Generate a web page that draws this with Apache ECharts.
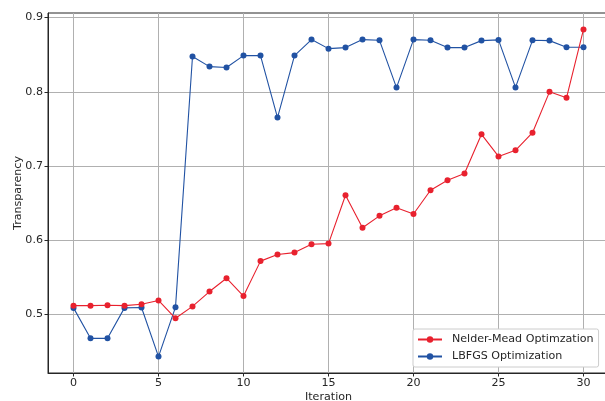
<!DOCTYPE html>
<html>
<head>
<meta charset="utf-8">
<script src="https://cdn.jsdelivr.net/npm/echarts@6/dist/echarts.min.js"></script>
<style>html,body{margin:0;padding:0;background:#fff;}#c{width:605px;height:401px;}</style>
</head>
<body>
<div id="c"></div>
<script>
const iterations = [0,1,2,3,4,5,6,7,8,9,10,11,12,13,14,15,16,17,18,19,20,21,22,23,24,25,26,27,28,29,30];
const nelderMead = [0.512,0.512,0.5125,0.512,0.514,0.519,0.495,0.511,0.531,0.549,0.525,0.572,0.581,0.5835,0.5947,0.5956,0.6607,0.617,0.633,0.644,0.6355,0.6674,0.681,0.690,0.7428,0.713,0.7213,0.745,0.800,0.792,0.884];
const lbfgs = [0.509,0.468,0.468,0.509,0.5095,0.4434,0.510,0.8475,0.834,0.8327,0.8488,0.8488,0.7653,0.8488,0.8704,0.8582,0.8596,0.8704,0.8694,0.8057,0.8704,0.8694,0.8596,0.8596,0.869,0.870,0.806,0.8694,0.869,0.860,0.860];
const xTicks = [0,5,10,15,20,25,30];
const yTicks = [0.5,0.6,0.7,0.8,0.9];
const seriesNames = ['Nelder-Mead Optimzation','LBFGS Optimization'];

const font = 'DejaVu Sans';
const fs = 11.1;
const chart = echarts.init(document.getElementById('c'), null, {renderer:'canvas'});
chart.setOption({
  animation: false,
  backgroundColor: '#fff',
  grid: {left: 48, top: 13, width: 561, height: 360, outerBoundsMode: 'none', containLabel: false,
         show: true, borderColor: '#262626', borderWidth: 1, backgroundColor: 'transparent'},
  xAxis: {
    type: 'value', min: -1.5, max: 31.5,
    name: 'Iteration', nameLocation: 'middle', nameGap: 19, nameMoveOverlap: false,
    nameTextStyle: {fontFamily: font, fontSize: fs, color: '#262626'},
    axisLine: {show: true, onZero: false, lineStyle: {color: '#262626', width: 1}},
    axisTick: {show: true, length: 3.5, customValues: xTicks, lineStyle: {color: '#262626'}},
    axisLabel: {customValues: xTicks, margin: 5, fontFamily: font, fontSize: fs, color: '#262626'},
    splitLine: {show: true, lineStyle: {color: '#b0b0b0', width: 1}}
  },
  yAxis: {
    type: 'value', min: 0.4213, max: 0.9062,
    name: 'Transparency', nameLocation: 'middle', nameGap: 24, nameMoveOverlap: false,
    nameTextStyle: {fontFamily: font, fontSize: fs, color: '#262626'},
    axisLine: {show: true, onZero: false, lineStyle: {color: '#262626', width: 1}},
    axisTick: {show: true, length: 3.5, customValues: yTicks, lineStyle: {color: '#262626'}},
    axisLabel: {customValues: yTicks, margin: 5, fontFamily: font, fontSize: fs, color: '#262626', formatter: v => v.toFixed(1)},
    splitLine: {show: true, lineStyle: {color: '#b0b0b0', width: 1}}
  },
  legend: {
    orient: 'vertical', left: 413, top: 329,
    padding: [4, 5, 4, 4], itemGap: 4, itemWidth: 24, itemHeight: 8,
    backgroundColor: '#fff', borderColor: '#cccccc', borderWidth: 1, borderRadius: 2,
    textStyle: {fontFamily: font, fontSize: fs, color: '#262626', padding: [0,0,0,5], lineHeight: 13},
    data: seriesNames
  },
  series: [
    {name: seriesNames[0], type: 'line', data: iterations.map((x,i)=>[x, nelderMead[i]]),
     color: '#e8212e', symbol: 'circle', symbolSize: 6, lineStyle: {width: 1.1}, z: 3},
    {name: seriesNames[1], type: 'line', data: iterations.map((x,i)=>[x, lbfgs[i]]),
     color: '#2152a3', symbol: 'circle', symbolSize: 6, lineStyle: {width: 1.1}, z: 2}
  ]
});
</script>
</body>
</html>
